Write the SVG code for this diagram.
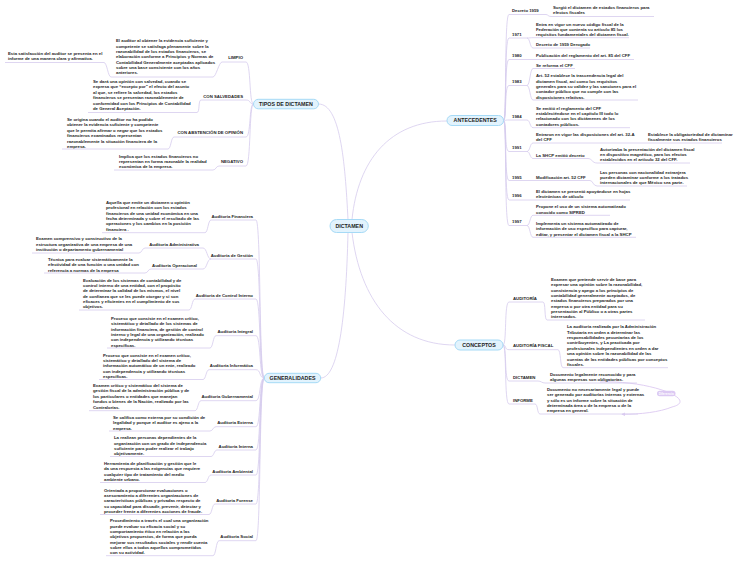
<svg xmlns="http://www.w3.org/2000/svg" width="742" height="563" viewBox="0 0 742 563">
<defs>
<style>
text{font-family:"Liberation Sans",Arial,sans-serif;font-weight:bold;fill:#1e1e1e;font-size:4.3px}
.h{font-size:5.3px;text-anchor:middle}
.e{text-anchor:end}
.ul{stroke:#d6cbee;stroke-width:0.8;fill:none}
.c{stroke:#d6cbee;stroke-width:0.8;fill:none}
.pill{fill:#e2f3fd;stroke:#a6daf6;stroke-width:1}
.rel{stroke:#dccaf2;stroke-width:0.9;fill:none}
.rl{fill:#fff;font-size:3.1px;text-anchor:middle}
</style>
<marker id="arr" viewBox="0 0 6 6" refX="5" refY="3" markerWidth="4" markerHeight="4" orient="auto">
<path d="M0,0 L6,3 L0,6 z" fill="#dccaf2"/>
</marker>
</defs>
<rect width="742" height="563" fill="#fff"/>

<g id="connectors">
<!-- root -->
<path class="c" d="M348,219.5 C345,160 340,104 318.5,104"/>
<path class="c" d="M348,232.5 C346,320 338,378 320.7,378"/>
<path class="c" d="M352,219.5 C358,160 390,121 447,121"/>
<path class="c" d="M352,232.5 C360,300 395,345 455,345"/>
<!-- tipos -->
<path class="c" d="M253.5,104 C249,104 251,62 246,62"/>
<path class="c" d="M253.5,104 C249,104 251,100 246,100"/>
<path class="c" d="M253.5,104 C249,104 251,137 246,137"/>
<path class="c" d="M253.5,104 C249,104 251,166 246,166"/>
<path class="c" d="M222,62 C219,62 216,77 213,77"/>
<path class="c" d="M111,77 C108,77 107,62.5 104,62.5"/>
<path class="c" d="M201,100 C198,100 200,112.5 197,112.5"/>
<path class="c" d="M174,137 C171,137 171,149 168,149"/>
<path class="c" d="M219,166 C216,166 216,170 213,170"/>
<!-- generalidades -->
<path class="c" d="M264.3,378 C259,378 261,220 256,220"/>
<path class="c" d="M264.3,378 C259,378 261,259 256,259"/>
<path class="c" d="M264.3,378 C259,378 261,299 256,299"/>
<path class="c" d="M264.3,378 C259,378 261,335.7 256,335.7"/>
<path class="c" d="M264.3,378 C259,378 261,369.7 256,369.7"/>
<path class="c" d="M264.3,378 C259,378 261,400.7 256,400.7"/>
<path class="c" d="M264.3,378 C259,378 261,426.7 256,426.7"/>
<path class="c" d="M264.3,378 C259,378 261,450 256,450"/>
<path class="c" d="M264.3,378 C259,378 261,475 256,475"/>
<path class="c" d="M264.3,378 C259,378 261,504 256,504"/>
<path class="c" d="M264.3,378 C259,378 261,540.7 256,540.7"/>
<path class="c" d="M211,220 C208,220 208,232.7 205,232.7"/>
<path class="c" d="M211,259 C207,259 207,248 203,248"/>
<path class="c" d="M211,259 C207,259 207,269 203,269"/>
<path class="c" d="M145,248 C142,248 142,253 139,253"/>
<path class="c" d="M151,269 C148,269 148,273 145,273"/>
<path class="c" d="M195,299 C192,299 192,310 189,310"/>
<path class="c" d="M216,335.7 C213,335.7 213,348 210,348"/>
<path class="c" d="M209,369.7 C206,369.7 206,379.5 203,379.5"/>
<path class="c" d="M201,400.7 C198,400.7 198,410.7 195,410.7"/>
<path class="c" d="M216,426.7 C213,426.7 213,431 210,431"/>
<path class="c" d="M217,450 C214,450 214,456.5 211,456.5"/>
<path class="c" d="M211,475 C208,475 208,482.5 205,482.5"/>
<path class="c" d="M215,504 C212,504 212,514.5 209,514.5"/>
<path class="c" d="M219,540.7 C216,540.7 216,555.7 213,555.7"/>
<!-- antecedentes -->
<path class="c" d="M503.5,120.5 C507,120.5 504,14.5 509,14.5"/>
<path class="c" d="M503.5,120.5 C507,120.5 504,38 509,38"/>
<path class="c" d="M503.5,120.5 C507,120.5 504,59.5 509,59.5"/>
<path class="c" d="M503.5,120.5 C507,120.5 504,85.5 509,85.5"/>
<path class="c" d="M503.5,120.5 C507,120.5 504,120 509,120"/>
<path class="c" d="M503.5,120.5 C507,120.5 504,151.5 509,151.5"/>
<path class="c" d="M503.5,120.5 C507,120.5 504,180.5 509,180.5"/>
<path class="c" d="M503.5,120.5 C507,120.5 504,200 509,200"/>
<path class="c" d="M503.5,120.5 C507,120.5 504,225.5 509,225.5"/>
<path class="c" d="M546,14.5 C548,14.5 548,16.5 551,16.5"/>
<path class="c" d="M527,38 C530,38 530,37.7 533,37.7"/>
<path class="c" d="M527,38 C530,38 530,48 533,48"/>
<path class="c" d="M527,59.5 L533,59.5"/>
<path class="c" d="M527,85.5 C530,85.5 530,68.5 533,68.5"/>
<path class="c" d="M527,85.5 C530,85.5 530,100 533,100"/>
<path class="c" d="M527,120 C530,120 530,127.7 533,127.7"/>
<path class="c" d="M527,151.5 C530,151.5 530,143 533,143"/>
<path class="c" d="M527,151.5 C530,151.5 530,158.5 533,158.5"/>
<path class="c" d="M641,143 L645,143"/>
<path class="c" d="M588,158.5 C592,158.5 592,163 597,163"/>
<path class="c" d="M527,180.5 L533,180.5"/>
<path class="c" d="M590,180.5 C593,180.5 593,186 597,186"/>
<path class="c" d="M527,200 L533,200"/>
<path class="c" d="M527,225.5 C530,225.5 530,215.3 533,215.3"/>
<path class="c" d="M527,225.5 C530,225.5 530,237.3 533,237.3"/>
<!-- conceptos -->
<path class="c" d="M503,345 C507,345 504,302 509,302"/>
<path class="c" d="M503,345 C507,345 504,349.7 509,349.7"/>
<path class="c" d="M503,345 C507,345 504,381 509,381"/>
<path class="c" d="M503,345 C507,345 504,404 509,404"/>
<path class="c" d="M543,302 C546,302 544,320 547,320"/>
<path class="c" d="M558,349.7 C561,349.7 560,367.7 563,367.7"/>
<path class="c" d="M538,381 C541,381 542,383 545,383"/>
<path class="c" d="M535,404 C538,404 537,414 540,414"/>
<!-- relationship -->
<path class="rel" d="M600,382 C650,380 700,400 672,407 C660,412 640,414.5 622,414.2" marker-end="url(#arr)"/>
</g>

<g id="root"><rect class="pill" x="330" y="219.5" width="38.3" height="13" rx="6.5"/><text class="h" x="349.2" y="227.9">DICTAMEN</text></g>
<g id="tipos"><rect class="pill" x="253.5" y="99.3" width="65" height="9.5" rx="4.75"/><text class="h" x="286" y="105.9">TIPOS DE DICTAMEN</text></g>
<g id="generalidades"><rect class="pill" x="264.3" y="373.3" width="56.4" height="9.4" rx="4.7"/><text class="h" x="292.5" y="379.9">GENERALIDADES</text></g>
<g id="antecedentes"><rect class="pill" x="447" y="115.5" width="56.5" height="10" rx="5"/><text class="h" x="475.2" y="122.4">ANTECEDENTES</text></g>
<g id="conceptos"><rect class="pill" x="455" y="340" width="48" height="10" rx="5"/><text class="h" x="479" y="346.9">CONCEPTOS</text></g>

<!-- TIPOS children -->
<g id="limpio"><text class="e" x="243" y="58.6">LIMPIO</text><line class="ul" x1="222" y1="62" x2="246" y2="62"/></g>
<g id="limpio-d"><text x="116" y="42.3"><tspan x="116">El auditor al obtener la evidencia suficiente y</tspan><tspan x="116" dy="5.35">competente se satisfaga plenamente sobre la</tspan><tspan x="116" dy="5.35">razonabilidad de los estados financieros, se</tspan><tspan x="116" dy="5.35">elaboración conforme a Principios y Normas de</tspan><tspan x="116" dy="5.35">Contabilidad Generalmente aceptadas aplicados</tspan><tspan x="116" dy="5.35">sobre una base consistente con los años</tspan><tspan x="116" dy="5.35">anteriores.</tspan></text><line class="ul" x1="111" y1="77" x2="213" y2="77"/></g>
<g id="limpio-d2"><text x="8" y="54.9"><tspan x="8">Esta satisfacción del auditor se presenta en el</tspan><tspan x="8" dy="5.35">informe de una manera clara y afirmativa.</tspan></text><line class="ul" x1="5" y1="62.5" x2="104" y2="62.5"/></g>

<g id="salvedades"><text class="e" x="243" y="97.6">CON SALVEDADES</text><line class="ul" x1="201" y1="100" x2="246" y2="100"/></g>
<g id="salvedades-d"><text x="93" y="82.6"><tspan x="93">Se dará una opinión con salvedad, cuando se</tspan><tspan x="93" dy="5.5">expresa que “excepto por” el efecto del asunto</tspan><tspan x="93" dy="5.5">al que, se refiere la salvedad, los estados</tspan><tspan x="93" dy="5.5">financieros se presentan razonablemente de</tspan><tspan x="93" dy="5.5">conformidad con los Principios de Contabilidad</tspan><tspan x="93" dy="5.5">de General Aceptación.</tspan></text><line class="ul" x1="88" y1="112.5" x2="197" y2="112.5"/></g>

<g id="abstencion"><text class="e" x="243" y="134.3">CON ABSTENCIÓN DE OPINIÓN</text><line class="ul" x1="174" y1="137" x2="246" y2="137"/></g>
<g id="abstencion-d"><text x="67" y="120.9"><tspan x="67">Se origina cuando el auditor no ha podido</tspan><tspan x="67" dy="5.4">obtener la evidencia suficiente y competente</tspan><tspan x="67" dy="5.4">que le permita afirmar o negar que los estados</tspan><tspan x="67" dy="5.4">financieros examinados representan</tspan><tspan x="67" dy="5.4">razonablemente la situación financiera de la</tspan><tspan x="67" dy="5.4">empresa.</tspan></text><line class="ul" x1="62" y1="149" x2="168" y2="149"/></g>

<g id="negativo"><text class="e" x="243" y="163.3">NEGATIVO</text><line class="ul" x1="219" y1="166" x2="246" y2="166"/></g>
<g id="negativo-d"><text x="119" y="157.6"><tspan x="119">Implica que los estados financieros no</tspan><tspan x="119" dy="5.4">representan en forma razonable la realidad</tspan><tspan x="119" dy="5.4">económica de la empresa.</tspan></text><line class="ul" x1="114" y1="170" x2="213" y2="170"/></g>

<!-- GENERALIDADES children -->
<g id="financiera"><text class="e" x="253" y="217.6">Auditoria Financiera</text><line class="ul" x1="211" y1="220" x2="256" y2="220"/></g>
<g id="financiera-d"><text x="106" y="203.6"><tspan x="106">Aquella que emite un dictamen u opinión</tspan><tspan x="106" dy="5.45">profesional en relación con los estados</tspan><tspan x="106" dy="5.45">financieros de una unidad económica en una</tspan><tspan x="106" dy="5.45">fecha determinada y sobre el resultado de las</tspan><tspan x="106" dy="5.45">operaciones y los cambios en la posición</tspan><tspan x="106" dy="5.45">financiera .</tspan></text><line class="ul" x1="102" y1="232.7" x2="205" y2="232.7"/></g>

<g id="gestion"><text class="e" x="253" y="256.6">Auditoria de Gestión</text><line class="ul" x1="211" y1="259" x2="256" y2="259"/></g>
<g id="administrativa"><text class="e" x="199" y="245.6">Auditoria Administrativa</text><line class="ul" x1="145" y1="248" x2="203" y2="248"/></g>
<g id="administrativa-d"><text x="36" y="240.3"><tspan x="36">Examen comprensivo y constructivo de la</tspan><tspan x="36" dy="5.3">estructura organizativa de una empresa de una</tspan><tspan x="36" dy="5.3">institución o departamento gubernamental</tspan></text><line class="ul" x1="32" y1="253" x2="139" y2="253"/></g>
<g id="operacional"><text class="e" x="197" y="266.6">Auditoria Operacional</text><line class="ul" x1="151" y1="269" x2="203" y2="269"/></g>
<g id="operacional-d"><text x="48" y="260.9"><tspan x="48">Técnica para evaluar sistemáticamente la</tspan><tspan x="48" dy="5.3">efectividad de una función o una unidad con</tspan><tspan x="48" dy="5.3">referencia a normas de la empresa</tspan></text><line class="ul" x1="44" y1="273" x2="145" y2="273"/></g>

<g id="control"><text class="e" x="253" y="296.6">Auditoria de Control Interno</text><line class="ul" x1="195" y1="299" x2="256" y2="299"/></g>
<g id="control-d"><text x="83" y="281.6"><tspan x="83">Evaluación de los sistemas de contabilidad y de</tspan><tspan x="83" dy="5.35">control interno de una entidad, con el propósito</tspan><tspan x="83" dy="5.35">de determinar la calidad de los mismos, el nivel</tspan><tspan x="83" dy="5.35">de confianza que se les puede otorgar y si son</tspan><tspan x="83" dy="5.35">eficaces y eficientes en el cumplimiento de sus</tspan><tspan x="83" dy="5.35">objetivos.</tspan></text><line class="ul" x1="79" y1="310" x2="189" y2="310"/></g>

<g id="integral"><text class="e" x="253" y="333.3">Auditoria Integral</text><line class="ul" x1="216" y1="335.7" x2="256" y2="335.7"/></g>
<g id="integral-d"><text x="111" y="319.9"><tspan x="111">Proceso que consiste en el examen crítico,</tspan><tspan x="111" dy="5.35">sistemático y detallado de los sistemas de</tspan><tspan x="111" dy="5.35">información financiera, de gestión de control</tspan><tspan x="111" dy="5.35">interno y legal de una organización, realizado</tspan><tspan x="111" dy="5.35">con independencia y utilizando técnicas</tspan><tspan x="111" dy="5.35">específicas.</tspan></text><line class="ul" x1="107" y1="348" x2="210" y2="348"/></g>

<g id="informatica"><text class="e" x="253" y="367.3">Auditoria Informática</text><line class="ul" x1="209" y1="369.7" x2="256" y2="369.7"/></g>
<g id="informatica-d"><text x="103" y="356.6"><tspan x="103">Proceso que consiste en el examen crítico,</tspan><tspan x="103" dy="5.35">sistemático y detallado del sistema de</tspan><tspan x="103" dy="5.35">información automático de un ente, realizado</tspan><tspan x="103" dy="5.35">con independencia y utilizando técnicas</tspan><tspan x="103" dy="5.35">específicas.</tspan></text><line class="ul" x1="99" y1="379.5" x2="203" y2="379.5"/></g>

<g id="gubernamental"><text class="e" x="253" y="398.3">Auditoria Gubernamental</text><line class="ul" x1="201" y1="400.7" x2="256" y2="400.7"/></g>
<g id="gubernamental-d"><text x="93" y="387"><tspan x="93">Examen crítico y sistemático del sistema de</tspan><tspan x="93" dy="5.4">gestión fiscal de la administración pública y de</tspan><tspan x="93" dy="5.4">los particulares o entidades que manejan</tspan><tspan x="93" dy="5.4">fondos o bienes de la Nación, realizado por las</tspan><tspan x="93" dy="5.4">Contralorías.</tspan></text><line class="ul" x1="89" y1="410.7" x2="195" y2="410.7"/></g>

<g id="externa"><text class="e" x="253" y="424.3">Auditoria Externa</text><line class="ul" x1="216" y1="426.7" x2="256" y2="426.7"/></g>
<g id="externa-d"><text x="113" y="418.9"><tspan x="113">Se califica como externa por su condición de</tspan><tspan x="113" dy="5.35">legalidad y porque el auditor es ajeno a la</tspan><tspan x="113" dy="5.35">empresa.</tspan></text><line class="ul" x1="109" y1="431" x2="210" y2="431"/></g>

<g id="interna"><text class="e" x="253" y="447.6">Auditoria Interna</text><line class="ul" x1="217" y1="450" x2="256" y2="450"/></g>
<g id="interna-d"><text x="114" y="439.3"><tspan x="114">La realizan personas dependientes de la</tspan><tspan x="114" dy="5.35">organización con un grado de independencia</tspan><tspan x="114" dy="5.35">suficiente para poder realizar el trabajo</tspan><tspan x="114" dy="5.35">objetivamente.</tspan></text><line class="ul" x1="110" y1="456.5" x2="211" y2="456.5"/></g>

<g id="ambiental"><text class="e" x="253" y="472.6">Auditoria Ambiental</text><line class="ul" x1="211" y1="475" x2="256" y2="475"/></g>
<g id="ambiental-d"><text x="104" y="464.9"><tspan x="104">Herramienta de planificación y gestión que le</tspan><tspan x="104" dy="5.35">da una respuesta a las exigencias que requiere</tspan><tspan x="104" dy="5.35">cualquier tipo de tratamiento del medio</tspan><tspan x="104" dy="5.35">ambiente urbano.</tspan></text><line class="ul" x1="100" y1="482.5" x2="205" y2="482.5"/></g>

<g id="forense"><text class="e" x="253" y="501.6">Auditoria Forense</text><line class="ul" x1="215" y1="504" x2="256" y2="504"/></g>
<g id="forense-d"><text x="104" y="491.6"><tspan x="104">Orientada a proporcionar evaluaciones o</tspan><tspan x="104" dy="5.35">asesoramiento a diferentes organizaciones de</tspan><tspan x="104" dy="5.35">características públicas y privadas respecto de</tspan><tspan x="104" dy="5.35">su capacidad para disuadir, prevenir, detectar y</tspan><tspan x="104" dy="5.35">proceder frente a diferentes acciones de fraude.</tspan></text><line class="ul" x1="100" y1="514.5" x2="209" y2="514.5"/></g>

<g id="social"><text class="e" x="253" y="538.3">Auditoria Social</text><line class="ul" x1="219" y1="540.7" x2="256" y2="540.7"/></g>
<g id="social-d"><text x="110" y="522.3"><tspan x="110">Procedimiento a través el cual una organización</tspan><tspan x="110" dy="5.35">puede evaluar su eficacia social y su</tspan><tspan x="110" dy="5.35">comportamiento ético en relación a las</tspan><tspan x="110" dy="5.35">objetivos propuestos, de forma que pueda</tspan><tspan x="110" dy="5.35">mejorar sus resultados sociales y rendir cuenta</tspan><tspan x="110" dy="5.35">sobre ellos a todos aquellos comprometidos</tspan><tspan x="110" dy="5.35">con su actividad.</tspan></text><line class="ul" x1="106" y1="555.7" x2="213" y2="555.7"/></g>

<!-- ANTECEDENTES children -->
<g id="d1959"><text x="512" y="12.3">Decreto 1959</text><line class="ul" x1="509" y1="14.5" x2="546" y2="14.5"/></g>
<g id="d1959-d"><text x="553" y="8.9"><tspan x="553">Surgió el dictamen de estados financieros para</tspan><tspan x="553" dy="5.35">efectos fiscales</tspan></text><line class="ul" x1="551" y1="16.5" x2="654" y2="16.5"/></g>

<g id="y1971"><text x="512" y="35.9">1971</text><line class="ul" x1="509" y1="38" x2="527" y2="38"/></g>
<g id="y1971-a"><text x="536" y="25.6"><tspan x="536">Entra en vigor un nuevo código fiscal de la</tspan><tspan x="536" dy="5.35">Federación que contenía su artículo 85 los</tspan><tspan x="536" dy="5.35">requisitos fundamentales del dictamen fiscal.</tspan></text><line class="ul" x1="533" y1="37.7" x2="629" y2="37.7"/></g>
<g id="y1971-b"><text x="536" y="45.9">Decreto de 1959 Derogado</text><line class="ul" x1="533" y1="48" x2="590" y2="48"/></g>

<g id="y1980"><text x="512" y="57.3">1980</text><line class="ul" x1="509" y1="59.5" x2="527" y2="59.5"/></g>
<g id="y1980-a"><text x="536" y="57.3">Publicación del reglamento del art. 85 del CFF</text><line class="ul" x1="533" y1="59.5" x2="634" y2="59.5"/></g>

<g id="y1983"><text x="512" y="83.3">1983</text><line class="ul" x1="509" y1="85.5" x2="527" y2="85.5"/></g>
<g id="y1983-a"><text x="536" y="66.9">Se reforma el CFF</text><line class="ul" x1="533" y1="68.5" x2="575" y2="68.5"/></g>
<g id="y1983-b"><text x="536" y="77.3"><tspan x="536">Art. 52 establece la trascendencia legal del</tspan><tspan x="536" dy="5.35">dictamen fiscal, así como los requisitos</tspan><tspan x="536" dy="5.35">generales para su validez y las sanciones para el</tspan><tspan x="536" dy="5.35">contador público que no cumple con las</tspan><tspan x="536" dy="5.35">disposiciones relativas.</tspan></text><line class="ul" x1="533" y1="100" x2="638" y2="100"/></g>

<g id="y1984"><text x="512" y="117.6">1984</text><line class="ul" x1="509" y1="120" x2="527" y2="120"/></g>
<g id="y1984-a"><text x="536" y="109.6"><tspan x="536">Se emitió el reglamento del CFF</tspan><tspan x="536" dy="5.4">estableciéndose en el capítulo III todo lo</tspan><tspan x="536" dy="5.4">relacionado con los dictámenes de los</tspan><tspan x="536" dy="5.4">contadores públicos.</tspan></text><line class="ul" x1="533" y1="127.7" x2="630" y2="127.7"/></g>

<g id="y1991"><text x="512" y="149.3">1991</text><line class="ul" x1="509" y1="151.5" x2="527" y2="151.5"/></g>
<g id="y1991-a"><text x="536" y="135.9"><tspan x="536">Entraron en vigor las disposiciones del art. 32-A</tspan><tspan x="536" dy="5.35">del CFF</tspan></text><line class="ul" x1="533" y1="143" x2="641" y2="143"/></g>
<g id="y1991-a1"><text x="648" y="135.9"><tspan x="648">Establece la obligatoriedad de dictaminar</tspan><tspan x="648" dy="5.35">fiscalmente sus estados financieros</tspan></text><line class="ul" x1="645" y1="143" x2="722" y2="143"/></g>
<g id="y1991-b"><text x="536" y="156.6">La SHCP emitió decreto</text><line class="ul" x1="533" y1="158.5" x2="588" y2="158.5"/></g>
<g id="y1991-b1"><text x="600" y="150.6"><tspan x="600">Autorizaba la presentación del dictamen fiscal</tspan><tspan x="600" dy="5.35">en dispositivo magnético, para los efectos</tspan><tspan x="600" dy="5.35">establecidos en el artículo 32 del CFF.</tspan></text><line class="ul" x1="597" y1="163" x2="690" y2="163"/></g>

<g id="y1995"><text x="512" y="178.6">1995</text><line class="ul" x1="509" y1="180.5" x2="527" y2="180.5"/></g>
<g id="y1995-a"><text x="536" y="178.6">Modificación art. 52 CFF</text><line class="ul" x1="533" y1="180.5" x2="590" y2="180.5"/></g>
<g id="y1995-a1"><text x="600" y="173.6"><tspan x="600">Las personas con nacionalidad extranjera</tspan><tspan x="600" dy="5.35">pueden dictaminar conforme a los tratados</tspan><tspan x="600" dy="5.35">internacionales de que México sea parte.</tspan></text><line class="ul" x1="597" y1="186" x2="687" y2="186"/></g>

<g id="y1996"><text x="512" y="196.6">1996</text><line class="ul" x1="509" y1="200" x2="527" y2="200"/></g>
<g id="y1996-a"><text x="536" y="192.9"><tspan x="536">El dictamen se presentó apoyándose en hojas</tspan><tspan x="536" dy="5.35">electrónicas de cálculo</tspan></text><line class="ul" x1="533" y1="200" x2="630" y2="200"/></g>

<g id="y1997"><text x="512" y="223.3">1997</text><line class="ul" x1="509" y1="225.5" x2="527" y2="225.5"/></g>
<g id="y1997-a"><text x="536" y="208.3"><tspan x="536">Propone el uso de un sistema automatizado</tspan><tspan x="536" dy="5.35">conocido como SIPRED</tspan></text><line class="ul" x1="533" y1="215.3" x2="610" y2="215.3"/></g>
<g id="y1997-b"><text x="536" y="224.9"><tspan x="536">Implementa un sistema automatizado de</tspan><tspan x="536" dy="5.35">información de uso específico para capturar,</tspan><tspan x="536" dy="5.35">editar, y presentar el dictamen fiscal a la SHCP</tspan></text><line class="ul" x1="533" y1="237.3" x2="636" y2="237.3"/></g>

<!-- CONCEPTOS children -->
<g id="auditoria"><text x="513" y="299.9">AUDITORÍA</text><line class="ul" x1="509" y1="302" x2="543" y2="302"/></g>
<g id="auditoria-d"><text x="551" y="280.9"><tspan x="551">Examen que pretende servir de base para</tspan><tspan x="551" dy="5.35">expresar una opinión sobre la razonabilidad,</tspan><tspan x="551" dy="5.35">consistencia y apego a los principios de</tspan><tspan x="551" dy="5.35">contabilidad generalmente aceptados, de</tspan><tspan x="551" dy="5.35">estados financieros preparados por una</tspan><tspan x="551" dy="5.35">empresa o por otra entidad para su</tspan><tspan x="551" dy="5.35">presentación al Público o a otras partes</tspan><tspan x="551" dy="5.35">interesados.</tspan></text><line class="ul" x1="547" y1="320" x2="645" y2="320"/></g>

<g id="fiscal"><text x="513" y="347.3">AUDITORÍA FISCAL</text><line class="ul" x1="509" y1="349.7" x2="558" y2="349.7"/></g>
<g id="fiscal-d"><text x="567" y="328.3"><tspan x="567">La auditoria realizada por la Administración</tspan><tspan x="567" dy="5.37">Tributaria en orden a determinar las</tspan><tspan x="567" dy="5.37">responsabilidades pecuniarias de los</tspan><tspan x="567" dy="5.37">contribuyentes, y La practicada por</tspan><tspan x="567" dy="5.37">profesionales independientes en orden a dar</tspan><tspan x="567" dy="5.37">una opinión sobre la razonabilidad de las</tspan><tspan x="567" dy="5.37">cuentas de las entidades públicas por conceptos</tspan><tspan x="567" dy="5.37">fiscales.</tspan></text><line class="ul" x1="563" y1="367.7" x2="668" y2="367.7"/></g>

<g id="dictamen"><text x="513" y="378.6">DICTAMEN</text><line class="ul" x1="509" y1="381" x2="538" y2="381"/></g>
<g id="dictamen-d"><text x="550" y="375.9"><tspan x="550">Documento legalmente reconocido y para</tspan><tspan x="550" dy="5.4">algunas empresas son obligatorias.</tspan></text><line class="ul" x1="545" y1="383" x2="637" y2="383"/></g>

<g id="informe"><text x="513" y="401.6">INFORME</text><line class="ul" x1="509" y1="404" x2="535" y2="404"/></g>
<g id="informe-d"><text x="547" y="390.9"><tspan x="547">Documento no necesariamente legal y puede</tspan><tspan x="547" dy="5.35">ser generado por auditorías internas y externas</tspan><tspan x="547" dy="5.35">y sólo es un informe sobre la situación de</tspan><tspan x="547" dy="5.35">determinada área o de la empresa o de la</tspan><tspan x="547" dy="5.35">empresa en general.</tspan></text><line class="ul" x1="540" y1="414" x2="638" y2="414"/></g>

<g id="rel-label"><rect x="657" y="390.8" width="18.5" height="5.4" rx="2.7" fill="#dcc9f3"/><text class="rl" x="666.2" y="394.6">Diferencia</text></g>
</svg>
